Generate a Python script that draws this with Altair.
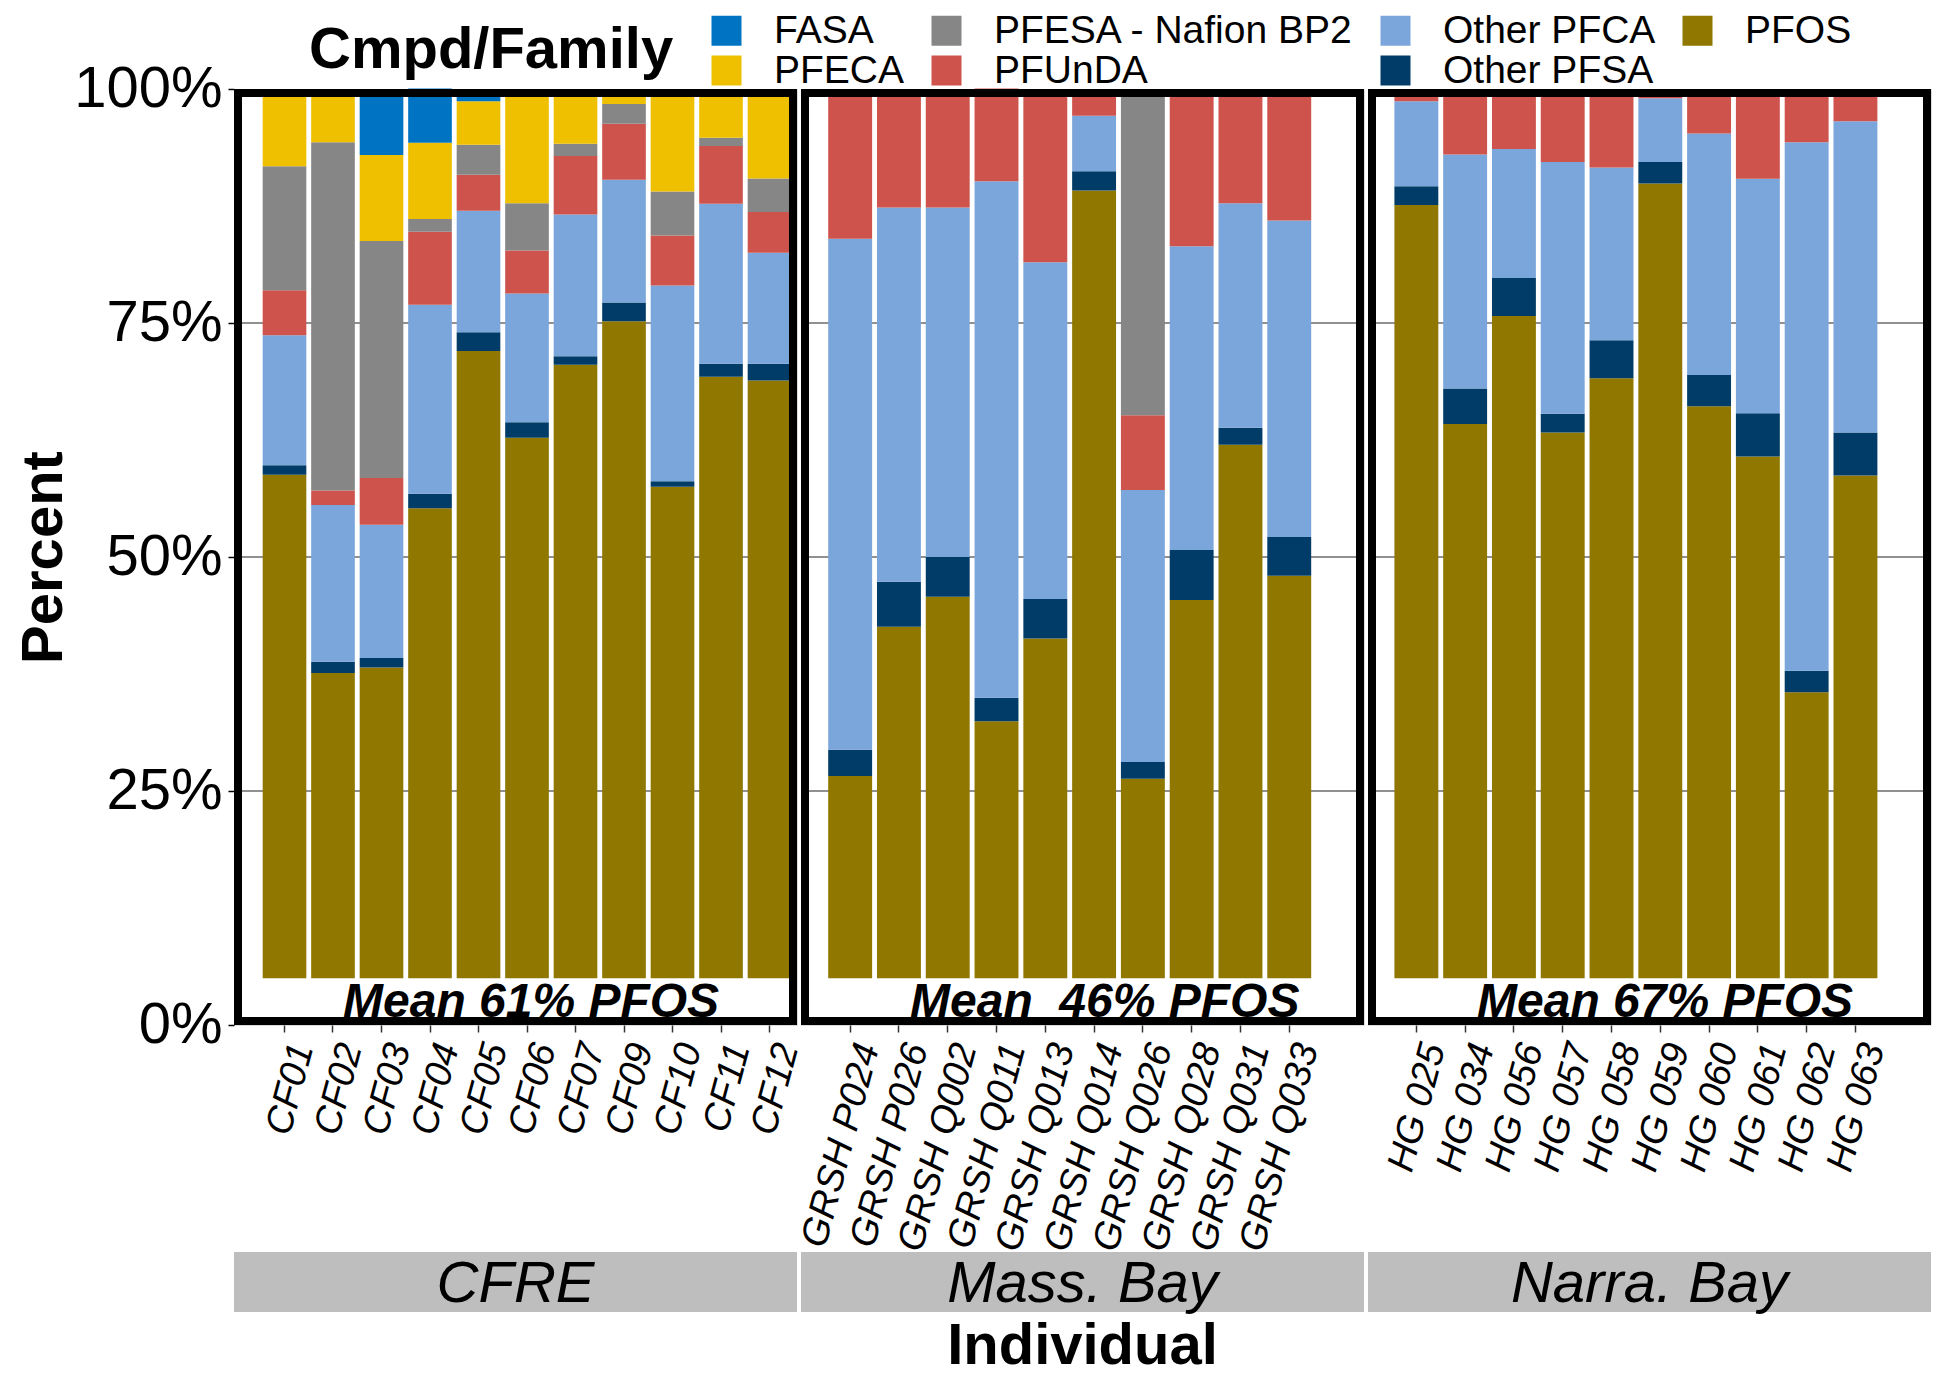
import altair as alt
import pandas as pd

# ---------------- data ----------------
regions = ["CFRE", "Mass. Bay", "Narra. Bay"]
mean_labels = ["Mean 61% PFOS", "Mean \u00a046% PFOS", "Mean 67% PFOS"]

ind_cfre = ["CF01", "CF02", "CF03", "CF04", "CF05", "CF06", "CF07", "CF09", "CF10", "CF11", "CF12"]
ind_mass = ["GRSH P024", "GRSH P026", "GRSH Q002", "GRSH Q011", "GRSH Q013",
            "GRSH Q014", "GRSH Q026", "GRSH Q028", "GRSH Q031", "GRSH Q033"]
ind_narra = ["HG 025", "HG 034", "HG 056", "HG 057", "HG 058",
             "HG 059", "HG 060", "HG 061", "HG 062", "HG 063"]

# percent of each compound family, one value per individual (CFRE 11, Mass. Bay 10, Narra. Bay 10)
fasa = [0, 0, 7.0, 5.8, 1.3, 0, 0, 0, 0, 0, 0] + [0] * 10 + [0] * 10
pfeca = [8.25, 5.7, 9.2, 8.15, 4.65, 12.2, 5.85, 1.6, 10.95, 5.15, 9.55] + [0] * 10 + [0] * 10
pfesa = ([13.25, 37.2, 25.3, 1.35, 3.2, 5.05, 1.3, 2.1, 4.7, 0.9, 3.6]
         + [0, 0, 0, 0, 0, 0, 34.85, 0, 0, 0] + [0] * 10)
pfunda = ([4.8, 1.55, 5.0, 7.8, 3.85, 4.6, 6.25, 6.0, 5.35, 6.15, 4.35]
          + [16.0, 12.65, 12.65, 9.9, 18.5, 2.85, 8.0, 16.8, 12.2, 14.05]
          + [1.3, 7.0, 6.4, 7.8, 8.4, 1.0, 4.75, 9.6, 5.7, 3.45])
other_pfca = ([13.9, 16.75, 14.25, 20.2, 13.0, 13.75, 15.15, 13.1, 20.9, 17.1, 11.85]
              + [54.6, 40.0, 37.35, 55.2, 36.0, 5.95, 29.05, 32.45, 24.0, 33.8]
              + [9.1, 25.0, 13.8, 26.9, 18.45, 6.8, 25.8, 25.05, 56.45, 33.25])
other_pfsa = ([1.0, 1.2, 1.0, 1.55, 2.0, 1.65, 0.9, 2.0, 0.6, 1.4, 1.8]
              + [2.8, 4.8, 4.25, 2.5, 4.2, 2.05, 1.8, 5.35, 1.8, 4.15]
              + [2.0, 3.8, 4.05, 2.0, 4.05, 2.3, 3.35, 4.6, 2.3, 4.6])
pfos = ([58.8, 37.6, 38.2, 55.2, 72.0, 62.75, 70.55, 75.2, 57.5, 69.25, 68.85]
        + [26.6, 42.55, 45.75, 32.45, 41.3, 89.15, 26.3, 45.4, 62.0, 48.0]
        + [87.6, 64.2, 75.75, 63.3, 69.1, 89.9, 66.1, 60.75, 35.55, 58.7])

compounds = ["FASA", "PFECA", "PFESA - Nafion BP2", "PFUnDA", "Other PFCA", "Other PFSA", "PFOS"]
colors = ["#0073C2", "#EFC000", "#868686", "#CD534C", "#7AA6DC", "#003C67", "#8F7700"]
series = dict(zip(compounds, [fasa, pfeca, pfesa, pfunda, other_pfca, other_pfsa, pfos]))
color_of = dict(zip(compounds, colors))

# legend is filled row by row with 4 columns -> reorder so columns read like the reference
legend_order = ["FASA", "PFESA - Nafion BP2", "Other PFCA", "PFOS", "PFECA", "PFUnDA", "Other PFSA"]
legend_colors = [color_of[c] for c in legend_order]

# ---------------- layout constants ----------------
W, H = 563, 936
FLOOR = 5          # bars are drawn from 5 % upward (label strip below)
FONT = "Liberation Sans"
stack_bottom_to_top = list(reversed(compounds))


def build_df(names, start):
    rows = []
    for j, name in enumerate(names):
        i = start + j
        cum = 0.0
        for c in stack_bottom_to_top:
            v = series[c][i]
            lo, hi = cum, cum + v
            cum = hi
            if v <= 0:
                continue
            rows.append(dict(Individual=name, Compound=c, lo=max(lo, FLOOR), hi=hi, Percent=v))
    return pd.DataFrame(rows)


color_enc = alt.Color(
    "Compound:N",
    scale=alt.Scale(domain=legend_order, range=legend_colors),
    legend=alt.Legend(
        title="Cmpd/Family", orient="none", legendX=75, legendY=-78,
        direction="horizontal", columns=4,
        titleOrient="left", titleAnchor="middle", titleBaseline="middle",
        titleFontSize=58, titleFontWeight="bold", titleColor="black", titleFont=FONT,
        titlePadding=33, titleLimit=800,
        labelFontSize=39, labelFont=FONT, labelColor="black", labelLimit=800,
        labelOffset=28, columnPadding=22, rowPadding=-7,
        symbolType="square", symbolSize=900, symbolStrokeWidth=0, symbolOpacity=1,
    ),
)


def panel(k, names, start, pad_outer, align, show_y):
    df = build_df(names, start)
    y_axis = (alt.Axis(values=[0, 25, 50, 75, 100], labelExpr="datum.value + '%'",
                       labelFontSize=58, labelColor="black", labelFont=FONT,
                       tickSize=6, tickColor="black", tickWidth=1.5, labelPadding=6,
                       domain=False, grid=False,
                       title="Percent", titleFontSize=58, titleFontWeight="bold",
                       titleColor="black", titleFont=FONT, titlePadding=0)
              if show_y else None)
    yscale = alt.Scale(domain=[0, 100], nice=False, zero=True)
    xscale = alt.Scale(domain=names, paddingInner=0.1, paddingOuter=pad_outer, align=align)

    grid = alt.Chart(pd.DataFrame({"g": [25, 50, 75]})).mark_rule(
        color="#6b6b6b", strokeWidth=1.5
    ).encode(y=alt.Y("g:Q", scale=yscale, axis=y_axis))

    bars = alt.Chart(df).mark_bar().encode(
        x=alt.X("Individual:N", sort=names, scale=xscale,
                axis=alt.Axis(title=None, labelAngle=285, labelAlign="right",
                              labelBaseline="top", labelFontSize=38, labelFontStyle="italic",
                              labelFont=FONT, labelColor="black", labelLimit=600,
                              labelPadding=7, tickSize=7, tickColor="#333333", tickWidth=1.5,
                              domain=False, grid=False)),
        y=alt.Y("lo:Q", scale=yscale, axis=y_axis),
        y2="hi:Q",
        color=color_enc,
    )

    one = pd.DataFrame({"t": [mean_labels[k]], "r": [regions[k]]})

    border = alt.Chart(one).mark_rect(fillOpacity=0, stroke="black", strokeWidth=8).encode(
        x=alt.value(4), x2=alt.value(W - 4), y=alt.value(4), y2=alt.value(H - 4))

    mean_txt = alt.Chart(one).mark_text(
        align="left", baseline="alphabetic", fontSize=48, fontWeight="bold",
        fontStyle="italic", font=FONT, color="black"
    ).encode(x=alt.value(109), y=alt.value(H - 8), text="t:N")

    strip = alt.Chart(one).mark_rect(color="#BEBEBE").encode(
        x=alt.value(0), x2=alt.value(W), y=alt.value(H + 227), y2=alt.value(H + 287))

    strip_txt = alt.Chart(one).mark_text(
        align="center", baseline="alphabetic", fontSize=58, fontStyle="italic",
        font=FONT, color="black"
    ).encode(x=alt.value(W / 2), y=alt.value(H + 277), text="r:N")

    layers = [grid, bars, border, mean_txt, strip, strip_txt]
    if k == 1:
        xt = alt.Chart(pd.DataFrame({"t": ["Individual"]})).mark_text(
            align="center", baseline="alphabetic", fontSize=58, fontWeight="bold",
            font=FONT, color="black"
        ).encode(x=alt.value(W / 2), y=alt.value(H + 339), text="t:N")
        layers.append(xt)
    return alt.layer(*layers).properties(width=W, height=H)


p1 = panel(0, ind_cfre, 0, 0.354, 0.835, True)
p2 = panel(1, ind_mass, 11, 0.82, 0.34, False)
p3 = panel(2, ind_narra, 21, 0.82, 0.33, False)

chart = alt.hconcat(p1, p2, p3, spacing=4, bounds="flush").properties(
    padding={"left": 7, "right": 0, "top": 3, "bottom": 0}
).configure_view(stroke=None).configure(font=FONT)

chart.save("out.html", embed_options={"renderer": "svg", "actions": False})
